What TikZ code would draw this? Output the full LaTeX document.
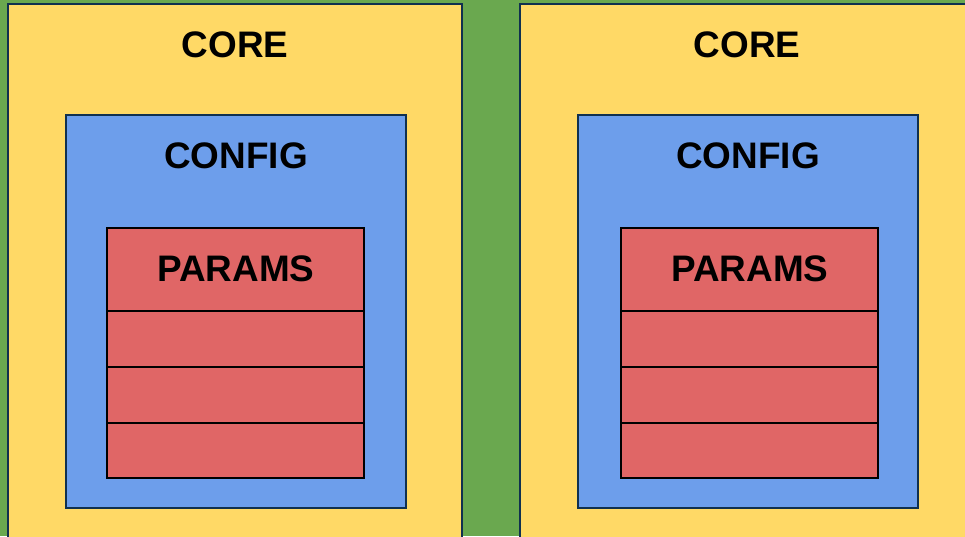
\documentclass[tikz,border=0pt]{standalone}
\usepackage{fontspec}
\setmainfont{Liberation Sans}
\usetikzlibrary{positioning}
\definecolor{bggreen}{HTML}{6AA84F}
\definecolor{coreyellow}{HTML}{FFD966}
\definecolor{configblue}{HTML}{6D9EEB}
\definecolor{paramsred}{HTML}{E06666}
\definecolor{edgenavy}{HTML}{10304F}
\tikzset{
  layout/.style={x=0.03cm,y=-0.03cm},
  corebox/.style={draw=edgenavy,line width=0.06cm,fill=coreyellow},
  configbox/.style={draw=edgenavy,line width=0.06cm,fill=configblue},
  paramsbox/.style={draw=black,line width=0.06cm,fill=paramsred},
  slot/.style={draw=black,line width=0.045cm},
  title/.style={font=\fontsize{31.5}{32}\selectfont\bfseries,inner sep=0pt},
}

\begin{document}
\begin{tikzpicture}[layout]
\useasboundingbox (0,0) rectangle (965,536);
\clip (0,0) rectangle (965,536);
\fill[bggreen] (0,0) rectangle (965,536);
% two identical panels side by side
\foreach \dx/\rx/\side in {0/0/l,512/514/r} {
  \draw[corebox] (8+\dx,4) rectangle (462+\dx,560);
  \node[title] (core-\side) at (235+\dx,45) {CORE};
  \draw[configbox] (66+\dx,115) rectangle (406+\dx,508);
  \node[title] (config-\side) at (236+\dx,156) {CONFIG};
  \draw[paramsbox] (107+\rx,228) rectangle (364+\rx,478);
  \node[title] (params-\side) at (236+\rx,269) {PARAMS};
  \foreach \y in {311,367,423}
    \draw[slot] (107+\rx,\y) -- (364+\rx,\y);
}
\end{tikzpicture}
\end{document}
